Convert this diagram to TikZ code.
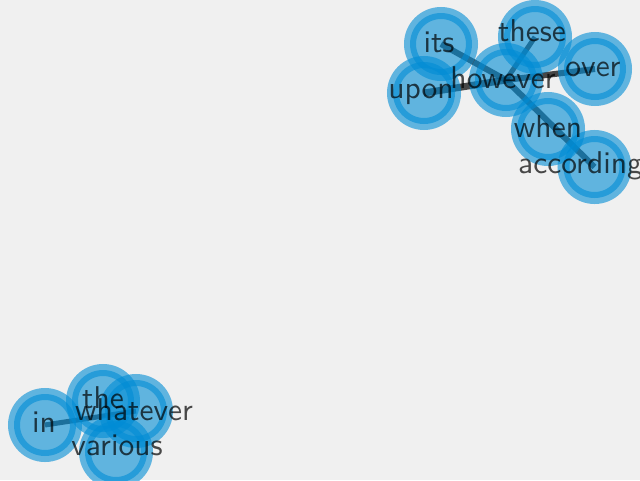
\documentclass[tikz,border=0pt]{standalone}
\usepackage{fontspec}
\newfontfamily\lblfont{lmsans10-regular}[Extension=.otf]
\definecolor{bgc}{RGB}{240,240,240}
\definecolor{nodeblue}{RGB}{0,140,213}
\pgfdeclarelayer{back}
\pgfdeclarelayer{bg}
\pgfsetlayers{back,bg,main}
\tikzset{
  dot/.style={circle, inner sep=0pt, minimum size=62pt, line width=12pt,
    fill=nodeblue, draw=nodeblue, fill opacity=0.6, draw opacity=0.6},
  lbl/.style={inner sep=0pt, anchor=base, text=black, text opacity=0.7,
    font=\lblfont\fontsize{31.5}{38}\selectfont},
  edge/.style={draw=black, draw opacity=0.7, line width=#1},
  edge/.default=6pt
}
\begin{document}
\begin{tikzpicture}[x=1pt,y=-1pt]
\begin{pgfonlayer}{back}
\fill[bgc] (0,0) rectangle (640,480);
\end{pgfonlayer}
\useasboundingbox (0,0) rectangle (640,480);
% nodes
\node[dot] (its) at (441,44) {};
\node[dot] (these) at (535,37) {};
\node[dot] (over) at (595,69) {};
\node[dot] (upon) at (424,93) {};
\node[dot] (however) at (506,80) {};
\node[dot] (when) at (548,129) {};
\node[dot] (according) at (594.5,167) {};
\node[dot] (in) at (45,425) {};
\node[dot] (the) at (103,401) {};
\node[dot] (whatever) at (136,411) {};
\node[dot] (various) at (116,452) {};
% edges
\begin{pgfonlayer}{bg}
\draw[edge=6pt] (its.center) -- (however.center);
\draw[edge=5pt] (these.center) -- (however.center);
\draw[edge=6pt] (over.center) -- (however.center);
\draw[edge=7pt] (upon.center) -- (however.center);
\draw[edge=6pt] (however.center) -- (according.center);
\draw[edge=5pt] (in.center) -- (whatever.center);
\end{pgfonlayer}
% labels
\node[lbl] (its-l) at (439,52.5) {its};
\node[lbl] (these-l) at (532,41.5) {these};
\node[lbl] (over-l) at (593,76.5) {over};
\node[lbl] (upon-l) at (421,98) {upon};
\node[lbl] (however-l) at (503,88) {however};
\node[lbl] (when-l) at (548,137) {when};
\node[lbl, anchor=base west] (according-l) at (518,173) {according};
\node[lbl] (in-l) at (44,432) {in};
\node[lbl] (the-l) at (103,408) {the};
\node[lbl] (whatever-l) at (134,420) {whatever};
\node[lbl] (various-l) at (117,455) {various};
\end{tikzpicture}
\end{document}
